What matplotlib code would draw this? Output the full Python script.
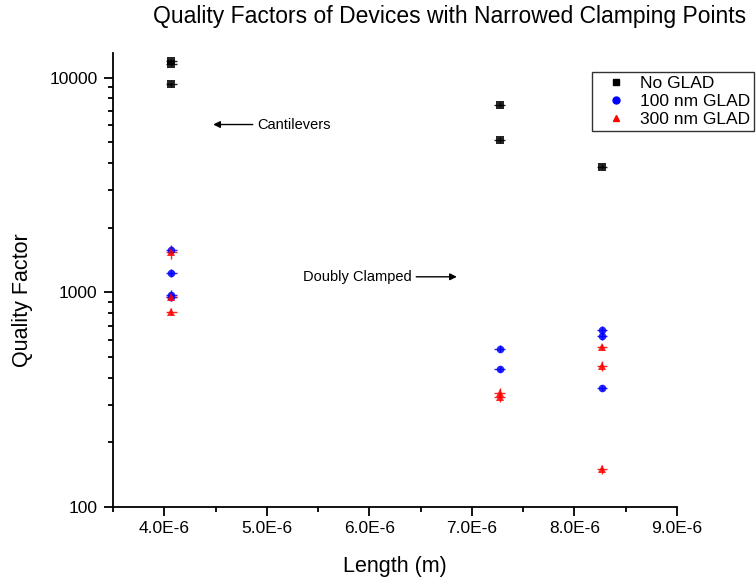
import matplotlib
matplotlib.use("Agg")
import matplotlib.pyplot as plt
from matplotlib.ticker import FixedLocator, FuncFormatter, LogLocator, NullFormatter, MultipleLocator
from matplotlib.lines import Line2D

plt.rcParams['font.family'] = ['Liberation Sans', 'DejaVu Sans']

# Data (length in m, quality factor)
noglad_x = [4.07e-6, 4.07e-6, 4.07e-6, 7.27e-6, 7.27e-6, 8.27e-6]
noglad_q = [11900, 11600, 9300, 7450, 5130, 3850]
noglad_qerr = [300, 300, 250, 200, 150, 100]

g100_x = [4.07e-6, 4.07e-6, 4.07e-6, 4.07e-6, 7.27e-6, 7.27e-6, 8.27e-6, 8.27e-6, 8.27e-6]
g100_q = [1580, 1230, 975, 955, 545, 440, 665, 625, 359]
g100_qerr = [80, 50, 45, 40, 20, 15, 30, 25, 12]

g300_x = [4.07e-6, 4.07e-6, 4.07e-6, 7.27e-6, 7.27e-6, 8.27e-6, 8.27e-6, 8.27e-6]
g300_q = [1540, 950, 811, 340, 324, 557, 454, 150]
g300_qerr = [110, 40, 30, 18, 15, 20, 22, 7]

xerr_val = 0.05e-6

x_ticks = [4.0e-6, 5.0e-6, 6.0e-6, 7.0e-6, 8.0e-6, 9.0e-6]
y_ticks = [100, 1000, 10000]

fig = plt.figure(figsize=(7.56, 5.79), dpi=100)
ax = fig.add_axes([0.1495, 0.1244, 0.746, 0.784])

series = [
    (noglad_x, noglad_q, noglad_qerr, 'black', 's', 'No GLAD'),
    (g100_x, g100_q, g100_qerr, 'blue', 'o', '100 nm GLAD'),
    (g300_x, g300_q, g300_qerr, 'red', '^', '300 nm GLAD'),
]
for xs, qs, qe, c, m, lab in series:
    ax.errorbar(xs, qs, xerr=[xerr_val] * len(xs), yerr=qe, fmt=m, color=c,
                ms=5.5, mew=0, elinewidth=1, capsize=3.5, capthick=1, alpha=0.85,
                label=lab)

ax.set_yscale('log')
ax.set_xlim(3.5e-6, 9.0e-6)
ax.set_ylim(100, 13000)

ax.xaxis.set_major_locator(FixedLocator(x_ticks))
ax.xaxis.set_minor_locator(MultipleLocator(0.5e-6))
ax.xaxis.set_major_formatter(FuncFormatter(lambda v, p: f"{v*1e6:.1f}E-6"))
ax.yaxis.set_major_locator(FixedLocator(y_ticks))
ax.yaxis.set_major_formatter(FuncFormatter(lambda v, p: f"{int(round(v))}"))
ax.yaxis.set_minor_locator(LogLocator(base=10, subs=range(2, 10)))
ax.yaxis.set_minor_formatter(NullFormatter())

ax.spines['top'].set_visible(False)
ax.spines['right'].set_visible(False)
for s in ['left', 'bottom']:
    ax.spines[s].set_linewidth(1.3)
ax.tick_params(which='major', direction='out', length=6.5, width=1.3, labelsize=12.5)
ax.tick_params(axis='y', which='major', pad=4.5)
ax.tick_params(which='minor', direction='out', length=3.6, width=1.3)

ax.set_xlabel('Length (m)', fontsize=15.5)
ax.set_ylabel('Quality Factor', fontsize=15.5)
ax.xaxis.set_label_coords(0.5, (507 - 567) / 454, transform=ax.transAxes)
ax.yaxis.set_label_coords((22 - 113) / 564, (507 - 300) / 454, transform=ax.transAxes)
ax.xaxis.label.set_va('center')
ax.yaxis.label.set_va('center')

fig.text(450 / 756, 1 - 17 / 579, 'Quality Factors of Devices with Narrowed Clamping Points',
         ha='center', va='center', fontsize=16.5)

# annotations
ax.annotate('', xy=(4.45e-6, 6040), xytext=(4.89e-6, 6040),
            arrowprops=dict(arrowstyle='-|>', color='black', lw=1, mutation_scale=10))
ax.text(4.91e-6, 6040, 'Cantilevers', fontsize=10.5, va='center', ha='left')
ax.annotate('', xy=(6.88e-6, 1180), xytext=(6.43e-6, 1180),
            arrowprops=dict(arrowstyle='-|>', color='black', lw=1, mutation_scale=10))
ax.text(6.41e-6, 1180, 'Doubly Clamped', fontsize=10.5, va='center', ha='right')

# legend with marker-only handles
handles = [Line2D([], [], ls='none', marker='s', color='black', ms=5),
           Line2D([], [], ls='none', marker='o', color='blue', ms=5),
           Line2D([], [], ls='none', marker='^', color='red', ms=4)]
leg = fig.legend(handles, ['No GLAD', '100 nm GLAD', '300 nm GLAD'],
                 loc='upper left', bbox_to_anchor=(592 / 756, 1 - 72 / 579),
                 fontsize=12.5, frameon=True, fancybox=False, edgecolor='black',
                 borderpad=0.25, labelspacing=0.15, handletextpad=0.2,
                 handlelength=2.3, borderaxespad=0)
leg.get_frame().set_linewidth(1)

fig.savefig('out.png', dpi=100)
